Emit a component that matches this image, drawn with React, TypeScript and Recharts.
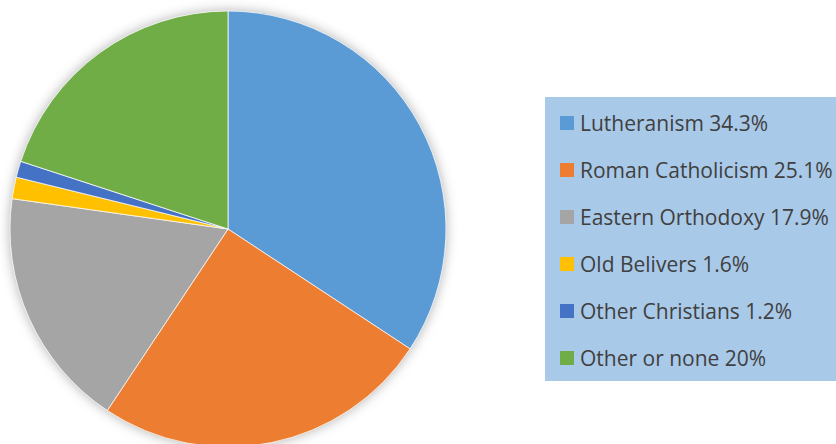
import React from 'react';
import { PieChart, Pie, Cell, Legend } from 'recharts';

const categories = [
  'Lutheranism',
  'Roman Catholicism',
  'Eastern Orthodoxy',
  'Old Belivers',
  'Other Christians',
  'Other or none',
];
const shares = [34.3, 25.1, 17.9, 1.6, 1.2, 20];
const shareLabels = ['34.3%', '25.1%', '17.9%', '1.6%', '1.2%', '20%'];
const colors = ['#5B9BD5', '#ED7D31', '#A5A5A5', '#FFC000', '#4472C4', '#70AD47'];

const data = categories.map((name, i) => ({ name, value: shares[i], label: shareLabels[i] }));

function LegendBox() {
  return (
    <div
      style={{
        width: 300,
        height: 284,
        background: '#A9C9E9',
        boxSizing: 'border-box',
        paddingTop: 2,
        paddingLeft: 15,
        fontFamily: '"Open Sans", sans-serif',
        fontSize: 21,
        color: '#404040',
      }}
    >
      {data.map((d, i) => (
        <div key={d.name} style={{ display: 'flex', alignItems: 'center', height: 47, whiteSpace: 'nowrap' }}>
          <span style={{ width: 14, height: 14, background: colors[i], marginRight: 6, flexShrink: 0 }} />
          <span>{`${d.name} ${d.label}`}</span>
        </div>
      ))}
    </div>
  );
}

export default function App() {
  return (
    <div style={{ width: 836, height: 444, overflow: 'hidden', position: 'relative', background: '#fff' }}>
      <style>{`body { margin: 0; } .recharts-pie { filter: drop-shadow(0 0 6px rgba(0,0,0,0.3)); }`}</style>
      <PieChart width={836} height={444} margin={{ top: 0, right: 0, bottom: 0, left: 0 }}>
        <Pie
          data={data}
          dataKey="value"
          nameKey="name"
          cx={228}
          cy={229}
          outerRadius={218}
          startAngle={90}
          endAngle={-270}
          stroke="#ffffff"
          strokeWidth={0.75}
          isAnimationActive={false}
        >
          {data.map((d, i) => (
            <Cell key={d.name} fill={colors[i]} />
          ))}
        </Pie>
        <Legend
          layout="vertical"
          align="right"
          verticalAlign="top"
          content={() => <LegendBox />}
          wrapperStyle={{ position: 'absolute', left: 545, top: 97, width: 300 }}
        />
      </PieChart>
    </div>
  );
}
